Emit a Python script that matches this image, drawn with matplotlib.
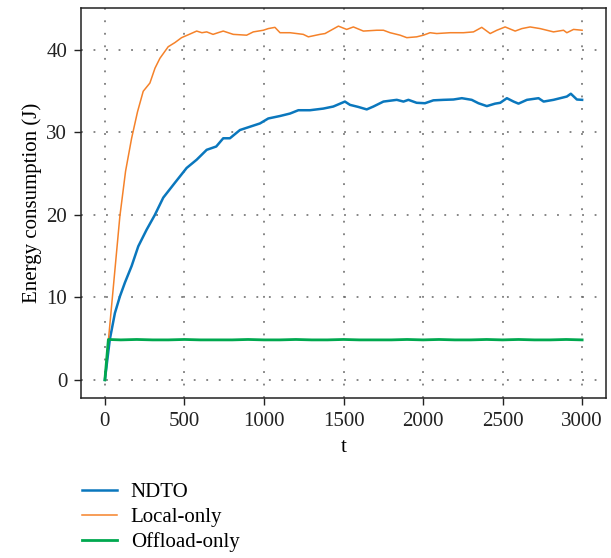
import numpy as np
from matplotlib import pyplot as plt

plt.rcParams['font.family'] = ['Liberation Serif', 'DejaVu Serif']

# Values
t_ndto = [0, 31, 63, 94, 126, 168, 210, 262, 314, 367, 440, 514, 577, 640, 700,
          744, 786, 849, 912, 975, 1027, 1101, 1164, 1216, 1289, 1373, 1436, 1509,
          1541, 1593, 1646, 1688, 1751, 1835, 1877, 1908, 1960, 2012, 2065, 2128,
          2191, 2244, 2306, 2348, 2401, 2453, 2485, 2527, 2569, 2600, 2653, 2726,
          2758, 2820, 2862, 2904, 2929, 2967, 3000]
e_ndto = [0, 4.9, 8.1, 10.1, 11.8, 13.8, 16.2, 18.2, 20.0, 22.1, 23.9, 25.7, 26.7,
          27.9, 28.3, 29.3, 29.3, 30.3, 30.7, 31.1, 31.7, 32.0, 32.3, 32.7, 32.7,
          32.9, 33.15, 33.75, 33.35, 33.1, 32.8, 33.15, 33.75, 33.96, 33.75, 33.96,
          33.6, 33.55, 33.9, 33.96, 34.0, 34.16, 33.96, 33.55, 33.2, 33.5, 33.6,
          34.16, 33.75, 33.5, 33.96, 34.16, 33.75, 33.96, 34.16, 34.36, 34.7, 34.0,
          33.96]

t_local = [0, 25, 50, 94, 130, 168, 205, 241, 283, 315, 346, 398, 440, 482, 530,
           577, 610, 640, 680, 711, 744, 807, 891, 933, 996, 1027, 1069, 1101, 1164,
           1247, 1279, 1352, 1384, 1468, 1520, 1562, 1625, 1709, 1751, 1793, 1856,
           1898, 1960, 2002, 2044, 2086, 2170, 2254, 2317, 2369, 2422, 2464, 2516,
           2579, 2621, 2673, 2736, 2820, 2883, 2904, 2946, 3000]
e_local = [0, 5.4, 10.6, 19.8, 25.3, 29.3, 32.5, 35.0, 36.0, 37.8, 39.0, 40.4, 40.9,
           41.5, 41.9, 42.3, 42.1, 42.2, 41.9, 42.1, 42.3, 41.9, 41.8, 42.2, 42.4,
           42.6, 42.75, 42.1, 42.1, 41.9, 41.6, 41.9, 42.0, 42.9, 42.5, 42.8, 42.3,
           42.4, 42.4, 42.1, 41.8, 41.5, 41.6, 41.8, 42.1, 42.0, 42.1, 42.1, 42.2,
           42.75, 42.0, 42.4, 42.8, 42.3, 42.6, 42.8, 42.6, 42.2, 42.4, 42.1, 42.5,
           42.4]

t_off = [0, 22, 100, 200, 300, 400, 500, 600, 700, 800, 900, 1000, 1100, 1200, 1300,
         1400, 1500, 1600, 1700, 1800, 1900, 2000, 2100, 2200, 2300, 2400, 2500,
         2600, 2700, 2800, 2900, 3000]
e_off = [0, 4.9, 4.85, 4.9, 4.85, 4.85, 4.9, 4.85, 4.85, 4.85, 4.9, 4.85, 4.85, 4.9,
         4.85, 4.85, 4.9, 4.85, 4.85, 4.85, 4.9, 4.85, 4.9, 4.85, 4.85, 4.9, 4.85,
         4.9, 4.85, 4.85, 4.9, 4.85]

c_blue = '#0A77BD'
c_orange = '#F5822A'
c_green = '#00A84F'

fig = plt.figure(figsize=(6.11, 5.58), dpi=100)
ax = fig.add_axes([0.1326, 0.2867, 0.8592, 0.699])

l1, = ax.plot(t_ndto, e_ndto, color=c_blue, lw=1.8, label='NDTO')
l2, = ax.plot(t_local, e_local, color=c_orange, lw=1.1, label='Local-only')
l3, = ax.plot(t_off, e_off, color=c_green, lw=2.0, label='Offload-only')

ax.set_xlim(-150, 3150)
ax.set_ylim(-2.2, 45.1)
ax.set_xticks(np.arange(0, 3001, 500))
ax.set_yticks([0, 10, 20, 30, 40])
ax.grid(True, color='#666666', linestyle=(0, (1.2, 7)), linewidth=1.1)
ax.tick_params(direction='out', length=5, width=1, labelsize=15, pad=5, colors='#222222')
for s in ax.spines.values():
    s.set_linewidth(1.1)
    s.set_color('#222222')

ax.set_xlabel('t', fontsize=15, labelpad=5)
ax.set_ylabel('Energy consumption (J)', fontsize=15, labelpad=3)

fig.legend(handles=[l1, l2, l3], loc='upper left', bbox_to_anchor=(0.134, 0.1346),
           frameon=False, fontsize=15, handlelength=1.7, handletextpad=0.65,
           labelspacing=0.25, borderpad=0, borderaxespad=0)

fig.savefig('out.png', dpi=100)
